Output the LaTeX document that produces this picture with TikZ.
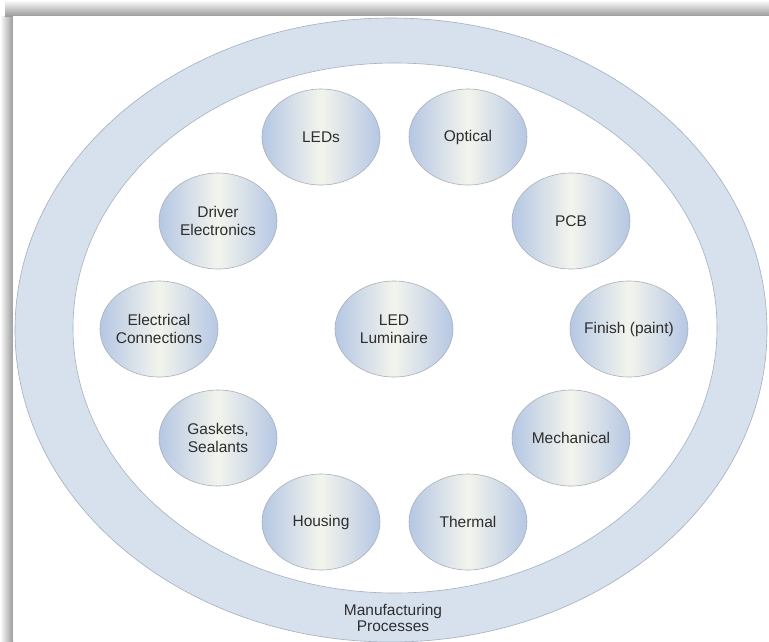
\documentclass[tikz,border=0pt]{standalone}
\usepackage{fontspec}
\setmainfont{Liberation Sans}
\usetikzlibrary{shapes.geometric}
\definecolor{ringblue}{HTML}{D7E1EE}
\definecolor{ringedge}{HTML}{A3AEBF}
\definecolor{bubblue}{HTML}{B5C7E4}
\definecolor{bubmid}{HTML}{F3F4EC}
\definecolor{bubedge}{HTML}{A9B0BA}
\definecolor{txtgray}{HTML}{2E2E2E}
\definecolor{shadowgray}{HTML}{9A9A9A}

\tikzset{
  bubble/.style={ellipse, draw=bubedge, line width=0.6pt,
    left color=bubblue, right color=bubblue, middle color=bubmid,
    minimum width=118pt, minimum height=96pt, inner xsep=-16pt, inner ysep=0pt,
    align=center, text=txtgray, font=\fontsize{15.5}{17.5}\selectfont},
}

\begin{document}
\begin{tikzpicture}[x=1pt, y=-1pt]

\useasboundingbox (0,0) rectangle (769,641);
\clip (0,0) rectangle (769,641);

% Shadow frame
\shade[left color=white, right color=shadowgray] (0,16) rectangle (13,641);
\shade[top color=white, bottom color=shadowgray] (5,0) rectangle (769,16);
\fill[white] (13,16) rectangle (769,641);

% Outer ring: manufacturing processes
\filldraw[fill=ringblue, draw=ringedge, line width=0.6pt] (391,330) ellipse (376 and 312);
\filldraw[fill=white, draw=ringedge, line width=0.6pt] (395,328) ellipse (322 and 265);
\node[align=center, text=txtgray, font=\fontsize{15.5}{16}\selectfont] (mfg) at (393,618)
  {Manufacturing\\Processes};

% Centre
\node[bubble] (lum) at (394,329) {LED\\Luminaire};

% Component bubbles, clockwise from the top
\node[bubble] (leds)  at (321,137) {LEDs};
\node[bubble] (optic) at (468,137) {Optical};
\node[bubble] (pcb)   at (571,221) {PCB};
\node[bubble] (finish) at (629,329) {Finish (paint)};
\node[bubble] (mech)  at (571,438) {Mechanical};
\node[bubble] (therm) at (468,522) {Thermal};
\node[bubble] (house) at (321,522) {Housing};
\node[bubble] (gask)  at (218,438) {Gaskets,\\Sealants};
\node[bubble] (elec)  at (159,329) {Electrical\\Connections};
\node[bubble] (drv)   at (218,221) {Driver\\Electronics};

\end{tikzpicture}
\end{document}
